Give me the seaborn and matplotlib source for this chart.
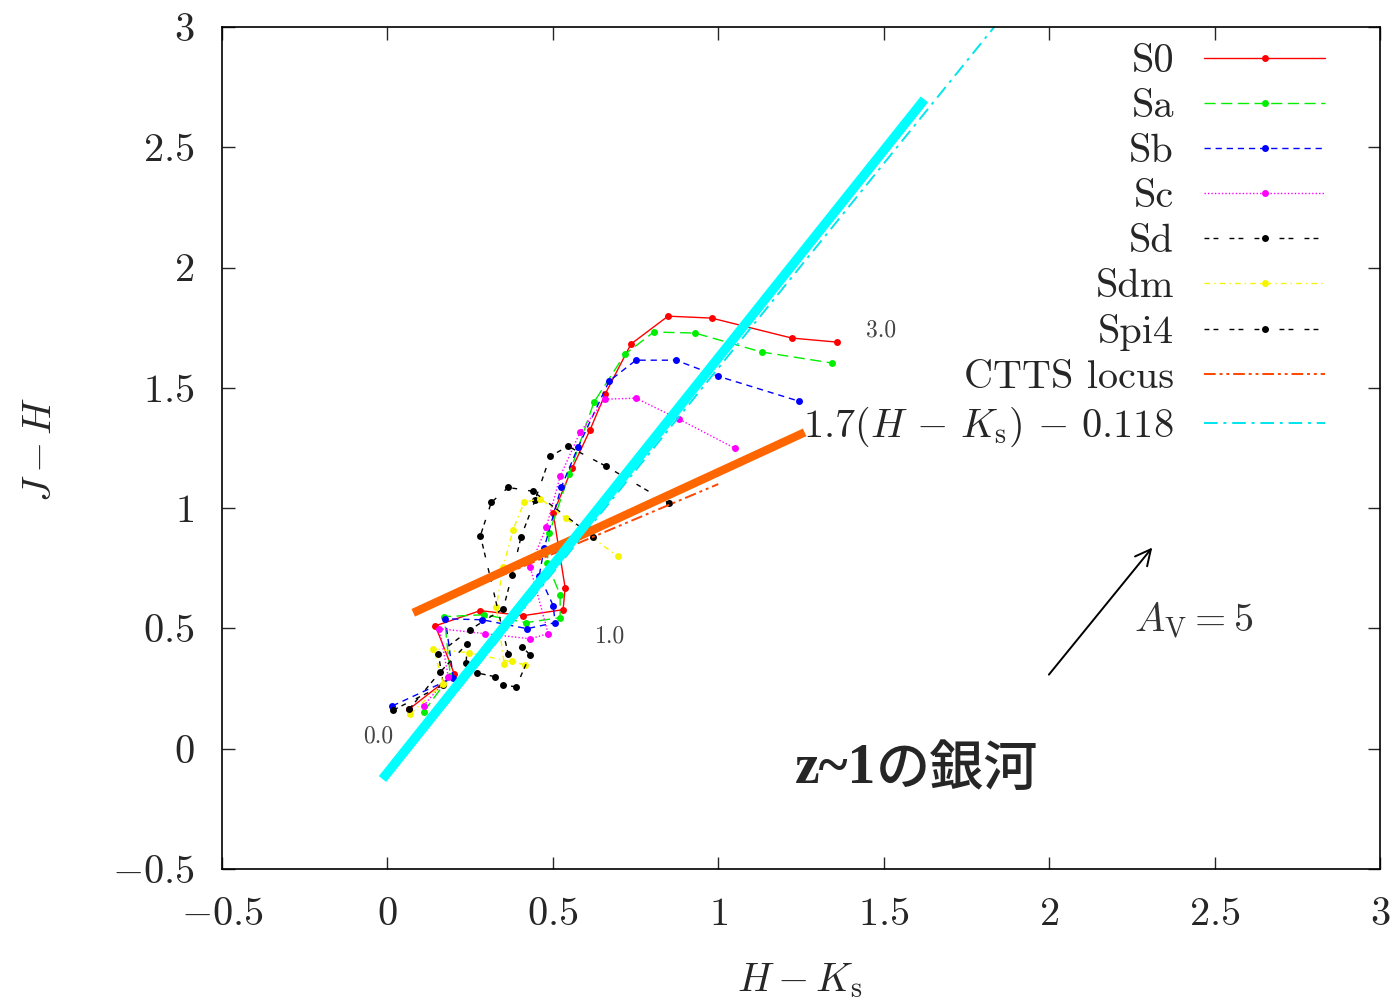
import pandas as pd
import seaborn as sns
import matplotlib.pyplot as plt

# Треки галактик: H-Ks (x) и J-H (y)
s0_x = [0.066, 0.202, 0.145, 0.281, 0.410, 0.531, 0.537, 0.501, 0.558, 0.612, 0.658, 0.736, 0.848, 0.980, 1.222, 1.360]
s0_y = [0.165, 0.311, 0.511, 0.574, 0.553, 0.578, 0.670, 0.978, 1.165, 1.324, 1.474, 1.682, 1.798, 1.790, 1.707, 1.690]

sa_x = [0.109, 0.190, 0.172, 0.293, 0.419, 0.522, 0.522, 0.483, 0.489, 0.549, 0.624, 0.718, 0.805, 0.929, 1.131, 1.345]
sa_y = [0.153, 0.303, 0.549, 0.557, 0.524, 0.545, 0.640, 0.770, 0.895, 1.140, 1.440, 1.640, 1.732, 1.728, 1.649, 1.603]

sb_x = [0.015, 0.199, 0.175, 0.287, 0.422, 0.507, 0.501, 0.459, 0.474, 0.525, 0.576, 0.670, 0.751, 0.872, 0.998, 1.243]
sb_y = [0.178, 0.295, 0.540, 0.536, 0.499, 0.524, 0.595, 0.720, 0.836, 1.086, 1.253, 1.528, 1.615, 1.615, 1.549, 1.445]

sc_x = [0.109, 0.184, 0.157, 0.296, 0.431, 0.486, 0.431, 0.480, 0.522, 0.582, 0.658, 0.751, 0.881, 1.050]
sc_y = [0.178, 0.299, 0.499, 0.478, 0.457, 0.478, 0.757, 0.920, 1.132, 1.315, 1.453, 1.457, 1.370, 1.249]

sd_x = [0.018, 0.169, 0.154, 0.250, 0.350, 0.377, 0.404, 0.446, 0.492, 0.546, 0.661, 0.851]
sd_y = [0.161, 0.265, 0.395, 0.495, 0.582, 0.724, 0.882, 1.032, 1.216, 1.257, 1.174, 1.020]

sdm_x = [0.069, 0.169, 0.139, 0.247, 0.416, 0.377, 0.353, 0.329, 0.350, 0.380, 0.413, 0.462, 0.540, 0.697]
sdm_y = [0.145, 0.270, 0.415, 0.399, 0.349, 0.365, 0.353, 0.590, 0.757, 0.911, 1.024, 1.040, 0.957, 0.799]

spi4_x = [0.066, 0.160, 0.241, 0.238, 0.271, 0.326, 0.350, 0.389, 0.431, 0.407, 0.365, 0.281, 0.314, 0.365, 0.440, 0.621]
spi4_y = [0.165, 0.320, 0.436, 0.357, 0.315, 0.299, 0.265, 0.257, 0.390, 0.424, 0.395, 0.886, 1.024, 1.086, 1.070, 0.882]

# CTTS locus и линия 1.7(H-Ks)-0.118
ctts_x = [0.25, 1.0]
ctts_y = [0.665, 1.10]
cut_x = [0.0, 1.9]
cut_y = [-0.118, 3.112]

# толстые линии поверх графика
thick_cyan_x = [-0.015, 1.623]
thick_cyan_y = [-0.126, 2.699]
thick_orange_x = [0.078, 1.261]
thick_orange_y = [0.565, 1.315]

ticks = [-0.5, 0, 0.5, 1, 1.5, 2, 2.5, 3]
tick_labels = [r'$-0.5$', r'$0$', r'$0.5$', r'$1$', r'$1.5$', r'$2$', r'$2.5$', r'$3$']

sns.set_style('ticks')
plt.rcParams['font.family'] = ['cmr10', 'DejaVu Sans']
plt.rcParams['mathtext.fontset'] = 'cm'
plt.rcParams['axes.formatter.use_mathtext'] = True

fig = plt.figure(figsize=(13.99, 10), dpi=100)
ax = fig.add_axes([0.1587, 0.131, 0.8277, 0.842])

tracks = [
    ('S0', s0_x, s0_y, '#ff0000', '-'),
    ('Sa', sa_x, sa_y, '#00ee00', (0, (8, 4))),
    ('Sb', sb_x, sb_y, '#0000ff', (0, (4.5, 3.5))),
    ('Sc', sc_x, sc_y, '#ff00ff', (0, (1, 1.5))),
    ('Sd', sd_x, sd_y, '#000000', (0, (3.5, 3, 3.5, 8))),
    ('Sdm', sdm_x, sdm_y, '#f5f500', (0, (4, 3, 1, 3))),
    ('Spi4', spi4_x, spi4_y, '#000000', (0, (3.5, 3, 3.5, 8))),
]
for name, xs, ys, col, ls in tracks:
    sns.lineplot(x=xs, y=ys, sort=False, estimator=None, ax=ax, color=col,
                 linestyle=ls, lw=1.0, marker='o', markersize=5,
                 markeredgecolor=col, markeredgewidth=0, label=name)

sns.lineplot(x=ctts_x, y=ctts_y, sort=False, estimator=None, ax=ax, color='#ff4500',
             linestyle=(0, (6, 2, 1.5, 2, 1.5, 2)), lw=1.4, label='CTTS locus')
sns.lineplot(x=cut_x, y=cut_y, sort=False, estimator=None, ax=ax, color='#00e5ee',
             linestyle=(0, (7, 3, 1.5, 3)), lw=1.4, label=r'$1.7(H\,-\,K_{\rm s})\,-\,0.118$')

ax.plot(thick_orange_x, thick_orange_y, color='#ff6600', lw=6, solid_capstyle='butt', zorder=5)
ax.plot(thick_cyan_x, thick_cyan_y, color='#00ffff', lw=6.8, solid_capstyle='butt', zorder=6)

# подписи красного смещения
for txt, tx, ty in [('0.0', -0.027, 0.053), ('1.0', 0.673, 0.465), ('3.0', 1.493, 1.74)]:
    ax.text(tx, ty, txt, fontsize=17, color='#444444', ha='center', va='center')

ax.annotate('', xy=(2.317, 0.845), xytext=(1.994, 0.299),
            arrowprops=dict(arrowstyle='->', lw=1.4, color='black', mutation_scale=28))
ax.text(2.256, 0.532, r'$A_{\rm V}=5$', fontsize=29, color='#333333', ha='left', va='center')

# надпись "z~1の銀河": латиница жирным serif, иероглифы CJK
t1 = ax.text(1.231, -0.085, 'z~1', fontsize=40, fontweight='bold',
             family=['Liberation Serif', 'DejaVu Serif'], ha='left', va='center', zorder=7)
ax.annotate('の銀河', xy=(1, 0.5), xycoords=t1, xytext=(0, 0), textcoords='offset points',
            fontsize=39, fontweight='medium', family=['Noto Sans CJK JP', 'DejaVu Sans'],
            ha='left', va='center', zorder=7)

ax.set_xlim(-0.5, 3)
ax.set_ylim(-0.5, 3)
ax.set_xticks(ticks, labels=tick_labels)
ax.set_yticks(ticks, labels=tick_labels)
ax.tick_params(which='both', direction='in', top=True, right=True, bottom=True, left=True,
               length=9, width=1, labelsize=29, pad=20)
for sp in ax.spines.values():
    sp.set_linewidth(1.2)
    sp.set_color('black')

ax.set_xlabel(r'$H-K_{\rm s}$', fontsize=29)
ax.set_ylabel(r'$J-H$', fontsize=29)
ax.xaxis.set_label_coords(0.499, -0.110)
ax.yaxis.set_label_coords(-0.141, 0.498)

handles, labels = ax.get_legend_handles_labels()
ax.legend(handles, labels, loc='upper right', bbox_to_anchor=(0.9525, 0.980),
          markerfirst=False, frameon=False, fontsize=29, handlelength=3.0,
          handletextpad=0.75, labelspacing=0.22, borderpad=0, borderaxespad=0, numpoints=1)

plt.savefig('out.png', dpi=100)
